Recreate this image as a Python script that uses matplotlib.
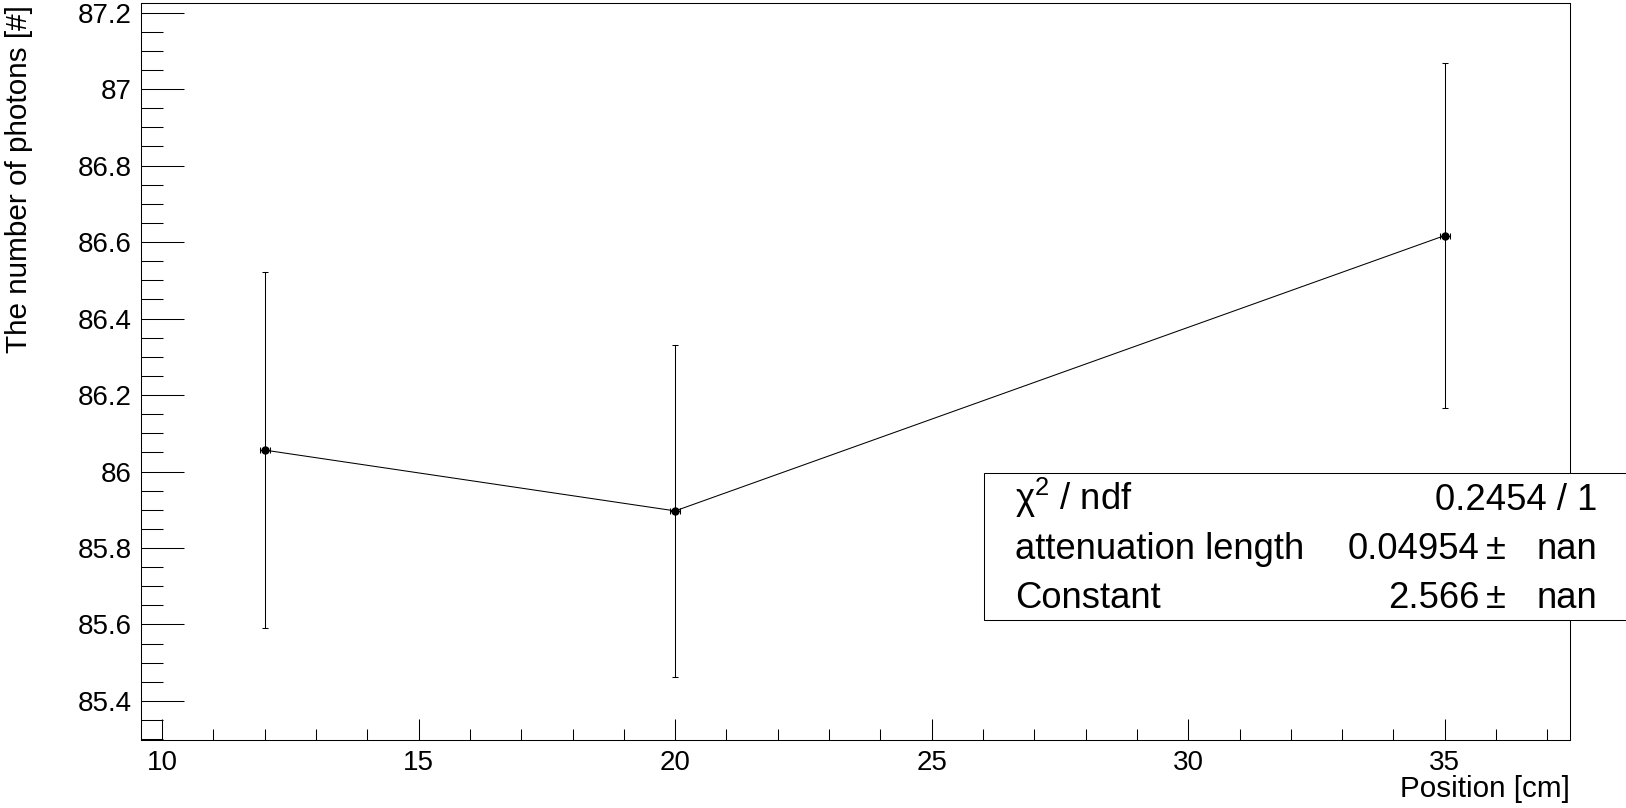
import matplotlib
matplotlib.use("Agg")
import matplotlib.pyplot as plt
from matplotlib.patches import Rectangle
from matplotlib.ticker import MultipleLocator

# measured photon yield vs. source position
position = [12, 20, 35]
position_err = [0.1, 0.1, 0.1]
photons = [86.056, 85.897, 86.617]
photons_err = [0.466, 0.433, 0.450]

# fit summary shown in the stats box
stat_names = ["\u03c7$^{2}$ / ndf", "attenuation length", "Constant"]
stat_values = ["0.2454 / 1", "0.04954", "2.566"]
stat_errors = [None, "nan", "nan"]

plt.rcParams['font.family'] = ['Liberation Sans', 'DejaVu Sans']
plt.rcParams['mathtext.fontset'] = 'custom'
plt.rcParams['mathtext.rm'] = 'Liberation Sans'
plt.rcParams['mathtext.it'] = 'Liberation Sans:italic'
plt.rcParams['mathtext.default'] = 'regular'

W, H = 1626, 808
fig = plt.figure(figsize=(W / 100, H / 100), dpi=100)
ax = fig.add_axes([141 / W, 1 - 740 / H, (1570 - 141) / W, (740 - 3) / H])

ax.errorbar(position, photons, xerr=position_err, yerr=photons_err,
            fmt='-o', color='black', markersize=5, linewidth=0.75,
            elinewidth=0.75, capsize=2, capthick=0.75)

ax.set_xlim(9.59, 37.44)
ax.set_ylim(85.298, 87.225)

ax.xaxis.set_major_locator(MultipleLocator(5))
ax.xaxis.set_minor_locator(MultipleLocator(1))
ax.yaxis.set_major_locator(MultipleLocator(0.2))
ax.yaxis.set_minor_locator(MultipleLocator(0.05))
ax.yaxis.set_major_formatter(plt.FuncFormatter(lambda v, p: f"{v:.1f}".rstrip('0').rstrip('.')))

ax.tick_params(axis='both', which='both', direction='in', color='black',
               width=0.75, labelsize=20, top=False, right=False)
ax.tick_params(axis='y', which='major', length=31, pad=6.5)
ax.tick_params(axis='y', which='minor', length=15.8)
ax.tick_params(axis='x', which='major', length=15, pad=7)
ax.tick_params(axis='x', which='minor', length=7.6)
for s in ax.spines.values():
    s.set_linewidth(0.75)

fig.text(19 / W, 1 - 5 / H, "The number of photons [#]", rotation=90,
         ha='center', va='top', fontsize=21.4)
fig.text(1570 / W, 1 - 797 / H, "Position [cm]", ha='right',
         va='baseline', fontsize=21.3)

# stats box
box = Rectangle((984 / W, 1 - 620 / H), (1640 - 984) / W, (620 - 473) / H,
                transform=fig.transFigure, facecolor='white', edgecolor='black',
                linewidth=0.75, clip_on=False, zorder=5)
ax.add_artist(box)
row_base = [510, 559, 608]
fs = 26.2
for name, val, err, y in zip(stat_names, stat_values, stat_errors, row_base):
    yy = 1 - y / H
    ax.text(1015 / W, yy, name, transform=fig.transFigure, ha='left',
            va='baseline', fontsize=fs, zorder=6)
    if err is None:
        ax.text(1597 / W, yy, val, transform=fig.transFigure, ha='right',
                va='baseline', fontsize=fs, zorder=6)
    else:
        ax.text(1479 / W, yy, val, transform=fig.transFigure, ha='right',
                va='baseline', fontsize=fs, zorder=6)
        ax.text(1496 / W, yy, "\u00b1", transform=fig.transFigure, ha='center',
                va='baseline', fontsize=fs, zorder=6)
        ax.text(1597 / W, yy, err, transform=fig.transFigure, ha='right',
                va='baseline', fontsize=fs, zorder=6)

fig.savefig("out.png", dpi=100)
